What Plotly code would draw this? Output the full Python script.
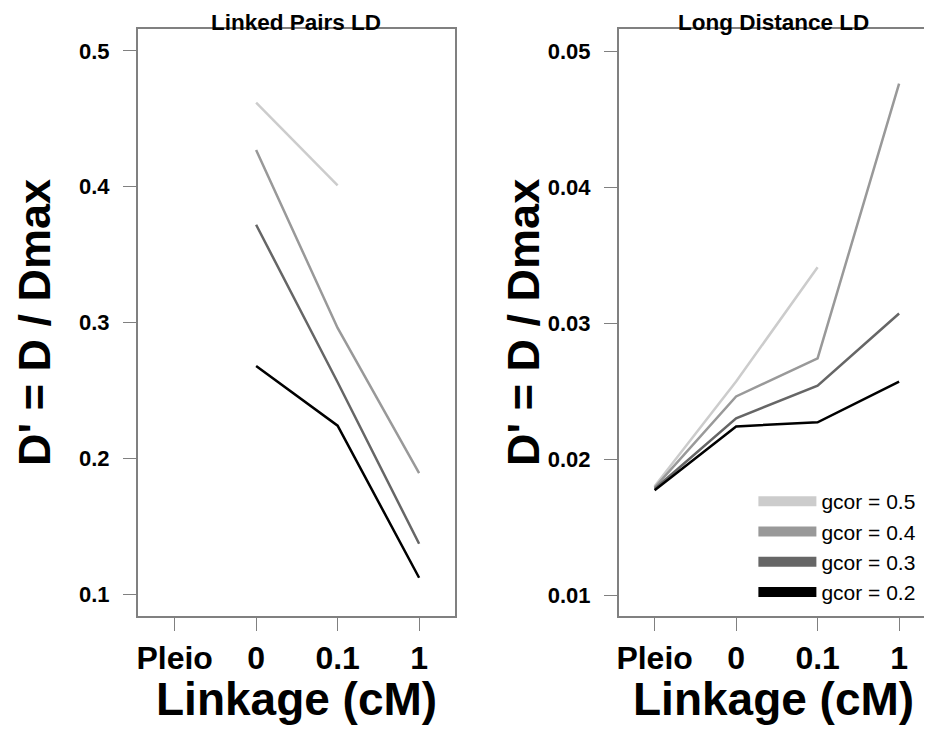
import plotly.graph_objects as go

categories = ["Pleio", "0", "0.1", "1"]
cat_pos = [1, 2, 3, 4]
series_names = ["gcor = 0.5", "gcor = 0.4", "gcor = 0.3", "gcor = 0.2"]
colors = ["#cccccc", "#999999", "#666666", "#000000"]

# Linked Pairs LD
linked_05 = [None, 0.462, 0.401, None]
linked_04 = [None, 0.427, 0.296, 0.189]
linked_03 = [None, 0.372, 0.256, 0.137]
linked_02 = [None, 0.268, 0.224, 0.112]

# Long Distance LD
long_05 = [0.0180, 0.0257, 0.0341, None]
long_04 = [0.0179, 0.0246, 0.0274, 0.0476]
long_03 = [0.0178, 0.0230, 0.0254, 0.0307]
long_02 = [0.0177, 0.0224, 0.0227, 0.0257]

left_ticks = [0.1, 0.2, 0.3, 0.4, 0.5]
right_ticks = [0.01, 0.02, 0.03, 0.04, 0.05]

OFF = 8  # page body margin
W, H = 932 - OFF, 732 - OFF
FONT = "Liberation Sans"
BOXC = "#808080"

fig = go.Figure()

linked = [linked_05, linked_04, linked_03, linked_02]
longd = [long_05, long_04, long_03, long_02]
for name, col, ys in zip(series_names, colors, linked):
    fig.add_trace(go.Scatter(x=cat_pos, y=ys, mode="lines", line=dict(color=col, width=2.5),
                             showlegend=False, xaxis="x", yaxis="y", connectgaps=False))
for name, col, ys in zip(series_names, colors, longd):
    fig.add_trace(go.Scatter(x=cat_pos, y=ys, mode="lines", line=dict(color=col, width=2.5),
                             showlegend=False, xaxis="x2", yaxis="y2", connectgaps=False))
# legend entries
for name, col in zip(series_names, colors):
    fig.add_trace(go.Scatter(x=[None], y=[None], mode="lines", name=name,
                             line=dict(color=col, width=10), xaxis="x2", yaxis="y2"))

def px_x(p):
    return (p - OFF) / W

def px_y(p):
    return 1 - (p - OFF) / H

common_x = dict(tickmode="array", tickvals=cat_pos, ticktext=categories,
                showgrid=False, zeroline=False, showline=True, mirror=True,
                linecolor=BOXC, linewidth=1.5, ticks="outside", ticklen=13,
                tickcolor=BOXC, tickwidth=1.2,
                tickfont=dict(family=FONT, size=32, color="black", weight="bold"),
                ticklabelstandoff=0)
common_y = dict(tickmode="array", showgrid=False, zeroline=False, showline=True, mirror=True,
                linecolor=BOXC, linewidth=1.5, ticks="outside", ticklen=13,
                tickcolor=BOXC, tickwidth=1.2,
                tickfont=dict(family=FONT, size=22, color="black", weight="bold"),
                ticklabelstandoff=9)

fig.update_layout(
    width=W, height=H, autosize=False,
    margin=dict(l=0, r=0, t=0, b=0),
    paper_bgcolor="white", plot_bgcolor="white",
    xaxis=dict(domain=[px_x(136), px_x(454)], range=[0.547, 4.441], anchor="y", **common_x),
    yaxis=dict(domain=[px_y(616), px_y(29)], range=[0.0838, 0.5162], anchor="x",
               tickvals=left_ticks, ticktext=[str(t) for t in left_ticks], **common_y),
    xaxis2=dict(domain=[px_x(618), px_x(929)], range=[0.559, 4.367], anchor="y2", **common_x),
    yaxis2=dict(domain=[px_y(616), px_y(29)], range=[0.00846, 0.05162], anchor="x2",
                tickvals=right_ticks, ticktext=[str(t) for t in right_ticks], **common_y),
    legend=dict(x=px_x(753), y=px_y(481), xanchor="left", yanchor="top",
                font=dict(family=FONT, size=21, color="black"),
                bgcolor="rgba(0,0,0,0)", borderwidth=0, itemwidth=58,
                tracegroupgap=0, traceorder="normal"),
    showlegend=True,
)

ann = []
for cx, title in [((136 + 454) / 2, "Linked Pairs LD"), ((618 + 929) / 2, "Long Distance LD")]:
    ann.append(dict(text=title, x=px_x(cx), y=px_y(22), xref="paper", yref="paper",
                    xanchor="center", yanchor="middle", showarrow=False,
                    font=dict(family=FONT, size=22.5, color="black", weight="bold")))
    ann.append(dict(text="Linkage (cM)", x=px_x(cx), y=px_y(699), xref="paper", yref="paper",
                    xanchor="center", yanchor="middle", showarrow=False,
                    font=dict(family=FONT, size=46, color="black", weight="bold")))
for cx in [33, 523]:
    ann.append(dict(text="D' = D / Dmax", x=px_x(cx), y=px_y(322), xref="paper", yref="paper",
                    xanchor="center", yanchor="middle", showarrow=False, textangle=-90,
                    font=dict(family=FONT, size=45, color="black", weight="bold")))
fig.update_layout(annotations=ann)

fig.write_html("out.html")
